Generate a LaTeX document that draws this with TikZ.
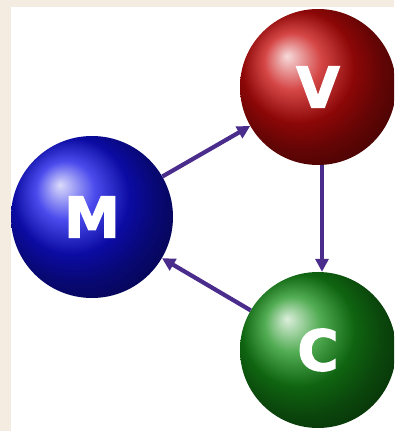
\documentclass[tikz,border=0pt]{standalone}
\usepackage{fontspec}
\newfontfamily\ballfont[FakeBold=2.5]{DejaVu Sans}
\usetikzlibrary{arrows.meta}
\definecolor{cream}{HTML}{F4ECE0}
\definecolor{arrowc}{HTML}{4A2C8C}
\definecolor{mblue}{HTML}{1010E8}
\definecolor{vred}{HTML}{C80A0A}
\definecolor{cgreen}{HTML}{169018}
\tikzset{
  ball/.style={circle, inner sep=0pt, minimum size=#1, text=white,
    font=\ballfont\bfseries\fontsize{56}{56}\selectfont},
  link/.style={line width=4.2pt, draw=arrowc,
    -{Triangle[length=13pt,width=13pt]}}
}
\begin{document}
\begin{tikzpicture}[x=1pt,y=1pt]
\useasboundingbox (0,0) rectangle (394,431);
\fill[cream] (0,0) rectangle (394,431);
\fill[white] (11,0) rectangle (394,424);
\begin{scope}
\clip (11,0) rectangle (394,424);
\node[ball=162pt, shading=ball, ball color=mblue] (M) at (92,214) {M};
\node[ball=156pt, shading=ball, ball color=vred] (V) at (318,344) {V};
\node[ball=156pt, shading=ball, ball color=cgreen] (C) at (318,81) {C};
\end{scope}
\draw[link] (M) -- (V);
\draw[link] ([xshift=4pt]V.south) -- ([xshift=4pt]C.north);
\draw[link] (C) -- (M);
\end{tikzpicture}
\end{document}
